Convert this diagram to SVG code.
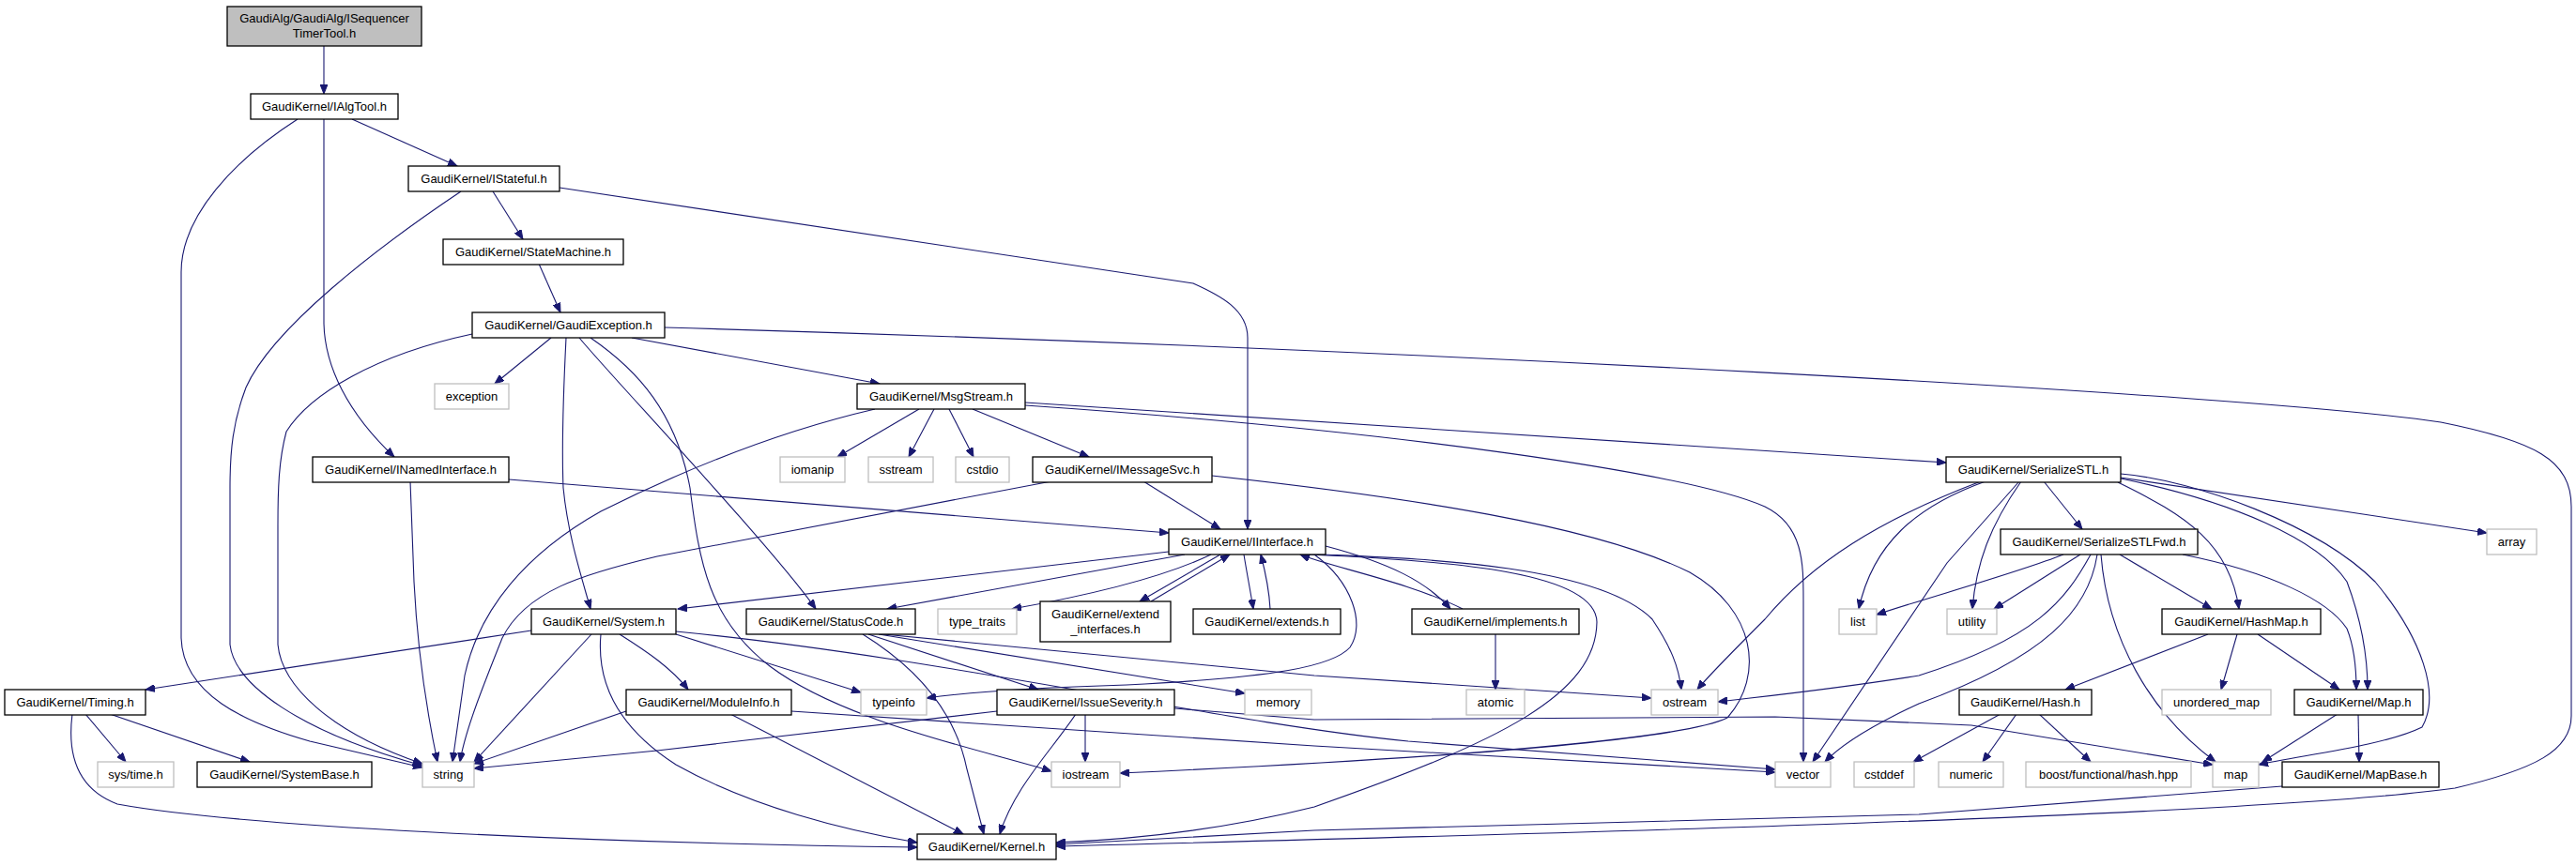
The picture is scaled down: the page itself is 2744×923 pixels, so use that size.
<svg xmlns="http://www.w3.org/2000/svg" width="2744" height="923" viewBox="0 0 2744 923">
<defs>
<marker id="ah" markerUnits="userSpaceOnUse" markerWidth="11" markerHeight="8" refX="10" refY="4" orient="auto"><path d="M0,0 L10,4 L0,8 z" fill="#191970" stroke="#191970" stroke-width="1"/></marker>
<style>
.n rect{fill:#fff;stroke:#000;stroke-width:1.3}
.s rect{fill:#fff;stroke:#bfbfbf;stroke-width:1.3}
.r rect{fill:#bfbfbf;stroke:#000;stroke-width:1.3}
text{font-family:"Liberation Sans",Arial,Helvetica,sans-serif;font-size:13px;fill:#000;text-anchor:middle}
#edges path{fill:none;stroke:#191970;stroke-width:1.1;marker-end:url(#ah)}
</style>
</defs>
<rect width="2744" height="923" fill="#fff"/>
<g id="edges">
<path d="M345,49 L345,100"/>
<path d="M375,127 L487,177"/>
<path d="M345,127 L345,345 C346,390 370,440 420,487"/>
<path d="M317,127 C250,170 193,230 193,290 L193,680 C195,740 260,770 330,790 L450,818"/>
<path d="M525,204 L557,255"/>
<path d="M596,200 L1271,302 C1300,315 1329,330 1329,360 L1329,564"/>
<path d="M491,204 C400,265 290,350 262,413 C248,450 245,480 245,520 L245,687 C250,730 320,780 450,816"/>
<path d="M574,281 L597,333"/>
<path d="M587,360 L527,409"/>
<path d="M673,360 L937,409"/>
<path d="M603,360 C600,420 598,470 600,520 C605,570 618,610 629,649"/>
<path d="M617,360 C650,400 820,580 869,649"/>
<path d="M629,360 C680,395 720,440 735,520 C745,600 755,660 820,710 C900,770 1050,800 1120,822"/>
<path d="M708,349 C1500,372 2400,420 2600,450 C2700,470 2739,490 2739,540 L2739,763 C2739,800 2700,820 2615,840 C2400,870 1600,890 1125,902"/>
<path d="M503,356 C400,378 330,420 305,460 C297,490 296,520 296,560 L296,687 C300,730 350,780 450,814"/>
<path d="M437,513 L441,620 C445,700 455,760 466,812"/>
<path d="M542,511 L1245,568"/>
<path d="M979,436 L892,487"/>
<path d="M995,436 L968,487"/>
<path d="M1011,436 L1037,487"/>
<path d="M1036,436 L1160,487"/>
<path d="M1092,429 L2073,493"/>
<path d="M1092,432 C1500,460 1800,505 1880,540 C1921,560 1921,600 1921,640 L1921,812"/>
<path d="M932,436 C850,455 750,490 640,545 C560,590 510,650 495,720 L482,812"/>
<path d="M1120,513 L700,593 C620,612 560,630 535,680 C515,730 495,780 490,812"/>
<path d="M1218,513 L1300,564"/>
<path d="M1291,507 C1500,530 1700,560 1800,610 C1870,650 1880,720 1840,765 C1790,790 1500,810 1193,824"/>
<path d="M1245,588 L722,649"/>
<path d="M1262,591 L945,649"/>
<path d="M1290,591 C1230,620 1140,638 1078,649"/>
<path d="M1300,591 L1214,641"/>
<path d="M1226,641 L1310,591"/>
<path d="M1325,591 C1328,610 1332,630 1335,649"/>
<path d="M1353,649 C1352,630 1348,610 1343,591"/>
<path d="M1412,582 C1480,600 1520,620 1545,649"/>
<path d="M1558,649 C1500,620 1420,605 1385,591"/>
<path d="M1400,591 C1440,620 1455,665 1438,690 C1420,710 1360,722 1200,730 C1100,733 1030,738 987,744"/>
<path d="M1408,591 C1500,595 1700,600 1760,660 C1780,690 1788,710 1791,735"/>
<path d="M1395,591 C1550,598 1700,610 1701,663 C1700,740 1600,790 1400,860 C1300,885 1200,895 1125,898"/>
<path d="M1593,676 L1593,735"/>
<path d="M566,672 L155,735"/>
<path d="M630,676 L505,812"/>
<path d="M640,676 C636,720 650,770 720,815 C800,860 900,885 977,898"/>
<path d="M660,676 C690,695 715,712 733,735"/>
<path d="M720,676 L917,738"/>
<path d="M720,673 C1000,700 1300,770 1500,790 L1891,820"/>
<path d="M925,676 L1106,735"/>
<path d="M919,676 C990,720 1020,770 1030,820 L1048,889"/>
<path d="M936,676 L1258,728 L1326,739"/>
<path d="M941,676 L1400,720 L1759,744"/>
<path d="M1156,761 L1156,812"/>
<path d="M1146,761 C1120,800 1080,840 1065,889"/>
<path d="M1062,758 L700,800 L505,819"/>
<path d="M1251,755 L1400,767 L1891,764 L2100,773 L2357,815"/>
<path d="M667,758 L505,814"/>
<path d="M778,761 L1026,889"/>
<path d="M843,758 L1400,795 L1891,823"/>
<path d="M91,761 L134,812"/>
<path d="M117,761 L266,812"/>
<path d="M77,761 C72,800 80,840 125,857 C250,880 600,898 977,903"/>
<path d="M2177,513 L2218,564"/>
<path d="M2259,509 L2649,568"/>
<path d="M2115,513 C2040,540 1995,580 1980,649"/>
<path d="M2110,513 C2000,555 1930,600 1880,660 C1840,700 1820,720 1808,735"/>
<path d="M2151,513 L2074,600 L1931,812"/>
<path d="M2153,513 C2120,560 2105,600 2101,649"/>
<path d="M2256,514 C2330,550 2375,580 2385,649"/>
<path d="M2259,510 C2380,535 2470,575 2500,620 C2515,660 2522,700 2522,735"/>
<path d="M2259,505 C2340,512 2470,560 2530,620 C2580,680 2600,740 2580,775 C2540,795 2450,805 2406,815"/>
<path d="M2198,591 C2150,610 2060,635 1999,655"/>
<path d="M2216,591 L2124,649"/>
<path d="M2227,591 C2200,640 2170,680 2044,720 C1950,735 1880,742 1830,748"/>
<path d="M2234,591 C2225,650 2180,700 2044,750 C1990,775 1960,795 1944,812"/>
<path d="M2238,591 C2245,680 2290,760 2360,812"/>
<path d="M2258,591 L2356,649"/>
<path d="M2325,591 C2420,610 2480,640 2500,670 C2508,690 2510,710 2510,735"/>
<path d="M2352,676 L2200,735"/>
<path d="M2383,676 L2366,735"/>
<path d="M2405,676 L2492,735"/>
<path d="M2131,761 L2038,812"/>
<path d="M2148,761 L2112,812"/>
<path d="M2172,761 L2227,812"/>
<path d="M2490,761 L2410,812"/>
<path d="M2512,761 L2513,812"/>
<path d="M2431,838 L2044,868 L1400,885 L1125,900"/>
</g>
<g id="n_root" class="r"><rect x="242" y="7" width="207" height="42"/><text x="345.5" y="24">GaudiAlg/GaudiAlg/ISequencer</text><text x="345.5" y="40">TimerTool.h</text></g>
<g id="n_ialgtool" class="n"><rect x="267" y="100" width="157" height="27"/><text x="345.5" y="118">GaudiKernel/IAlgTool.h</text></g>
<g id="n_istateful" class="n"><rect x="435" y="177" width="161" height="27"/><text x="515.5" y="195">GaudiKernel/IStateful.h</text></g>
<g id="n_statemachine" class="n"><rect x="472" y="255" width="192" height="27"/><text x="568" y="273">GaudiKernel/StateMachine.h</text></g>
<g id="n_gaudiexception" class="n"><rect x="503" y="333" width="205" height="27"/><text x="605.5" y="351">GaudiKernel/GaudiException.h</text></g>
<g id="n_exception" class="s"><rect x="463" y="409" width="79" height="27"/><text x="502.5" y="427">exception</text></g>
<g id="n_inamedinterface" class="n"><rect x="333" y="487" width="209" height="27"/><text x="437.5" y="505">GaudiKernel/INamedInterface.h</text></g>
<g id="n_msgstream" class="n"><rect x="913" y="409" width="179" height="27"/><text x="1002.5" y="427">GaudiKernel/MsgStream.h</text></g>
<g id="n_iomanip" class="s"><rect x="831" y="487" width="69" height="27"/><text x="865.5" y="505">iomanip</text></g>
<g id="n_sstream" class="s"><rect x="925" y="487" width="69" height="27"/><text x="959.5" y="505">sstream</text></g>
<g id="n_cstdio" class="s"><rect x="1018" y="487" width="57" height="27"/><text x="1046.5" y="505">cstdio</text></g>
<g id="n_imessagesvc" class="n"><rect x="1100" y="487" width="191" height="27"/><text x="1195.5" y="505">GaudiKernel/IMessageSvc.h</text></g>
<g id="n_iinterface" class="n"><rect x="1245" y="564" width="167" height="27"/><text x="1328.5" y="582">GaudiKernel/IInterface.h</text></g>
<g id="n_serializestl" class="n"><rect x="2073" y="487" width="186" height="27"/><text x="2166" y="505">GaudiKernel/SerializeSTL.h</text></g>
<g id="n_serializestlfwd" class="n"><rect x="2131" y="564" width="210" height="27"/><text x="2236" y="582">GaudiKernel/SerializeSTLFwd.h</text></g>
<g id="n_array" class="s"><rect x="2649" y="564" width="53" height="27"/><text x="2675.5" y="582">array</text></g>
<g id="n_system" class="n"><rect x="566" y="649" width="154" height="27"/><text x="643" y="667">GaudiKernel/System.h</text></g>
<g id="n_statuscode" class="n"><rect x="795" y="649" width="180" height="27"/><text x="885" y="667">GaudiKernel/StatusCode.h</text></g>
<g id="n_type_traits" class="s"><rect x="999" y="649" width="84" height="27"/><text x="1041" y="667">type_traits</text></g>
<g id="n_extend_interfaces" class="n"><rect x="1108" y="641" width="139" height="43"/><text x="1177.5" y="659">GaudiKernel/extend</text><text x="1177.5" y="675">_interfaces.h</text></g>
<g id="n_extends" class="n"><rect x="1271" y="649" width="157" height="27"/><text x="1349.5" y="667">GaudiKernel/extends.h</text></g>
<g id="n_implements" class="n"><rect x="1504" y="649" width="178" height="27"/><text x="1593" y="667">GaudiKernel/implements.h</text></g>
<g id="n_list" class="s"><rect x="1959" y="649" width="40" height="27"/><text x="1979" y="667">list</text></g>
<g id="n_utility" class="s"><rect x="2074" y="649" width="53" height="27"/><text x="2100.5" y="667">utility</text></g>
<g id="n_hashmap" class="n"><rect x="2303" y="649" width="169" height="27"/><text x="2387.5" y="667">GaudiKernel/HashMap.h</text></g>
<g id="n_timing" class="n"><rect x="5" y="735" width="150" height="27"/><text x="80" y="753">GaudiKernel/Timing.h</text></g>
<g id="n_moduleinfo" class="n"><rect x="667" y="735" width="176" height="27"/><text x="755" y="753">GaudiKernel/ModuleInfo.h</text></g>
<g id="n_typeinfo" class="s"><rect x="917" y="735" width="70" height="27"/><text x="952" y="753">typeinfo</text></g>
<g id="n_issueseverity" class="n"><rect x="1062" y="735" width="189" height="27"/><text x="1156.5" y="753">GaudiKernel/IssueSeverity.h</text></g>
<g id="n_memory" class="s"><rect x="1326" y="735" width="71" height="27"/><text x="1361.5" y="753">memory</text></g>
<g id="n_atomic" class="s"><rect x="1562" y="735" width="62" height="27"/><text x="1593" y="753">atomic</text></g>
<g id="n_ostream" class="s"><rect x="1759" y="735" width="71" height="27"/><text x="1794.5" y="753">ostream</text></g>
<g id="n_hash" class="n"><rect x="2087" y="735" width="141" height="27"/><text x="2157.5" y="753">GaudiKernel/Hash.h</text></g>
<g id="n_unordered_map" class="s"><rect x="2303" y="735" width="116" height="27"/><text x="2361" y="753">unordered_map</text></g>
<g id="n_map_h" class="n"><rect x="2444" y="735" width="137" height="27"/><text x="2512.5" y="753">GaudiKernel/Map.h</text></g>
<g id="n_systime" class="s"><rect x="104" y="812" width="81" height="27"/><text x="144.5" y="830">sys/time.h</text></g>
<g id="n_systembase" class="n"><rect x="210" y="812" width="186" height="27"/><text x="303" y="830">GaudiKernel/SystemBase.h</text></g>
<g id="n_string" class="s"><rect x="450" y="812" width="55" height="27"/><text x="477.5" y="830">string</text></g>
<g id="n_iostream" class="s"><rect x="1120" y="812" width="73" height="27"/><text x="1156.5" y="830">iostream</text></g>
<g id="n_vector" class="s"><rect x="1891" y="812" width="59" height="27"/><text x="1920.5" y="830">vector</text></g>
<g id="n_cstddef" class="s"><rect x="1975" y="812" width="64" height="27"/><text x="2007" y="830">cstddef</text></g>
<g id="n_numeric" class="s"><rect x="2065" y="812" width="69" height="27"/><text x="2099.5" y="830">numeric</text></g>
<g id="n_boosthash" class="s"><rect x="2158" y="812" width="176" height="27"/><text x="2246" y="830">boost/functional/hash.hpp</text></g>
<g id="n_map" class="s"><rect x="2357" y="812" width="49" height="27"/><text x="2381.5" y="830">map</text></g>
<g id="n_mapbase" class="n"><rect x="2431" y="812" width="167" height="27"/><text x="2514.5" y="830">GaudiKernel/MapBase.h</text></g>
<g id="n_kernel" class="n"><rect x="977" y="889" width="148" height="27"/><text x="1051" y="907">GaudiKernel/Kernel.h</text></g>
</svg>
